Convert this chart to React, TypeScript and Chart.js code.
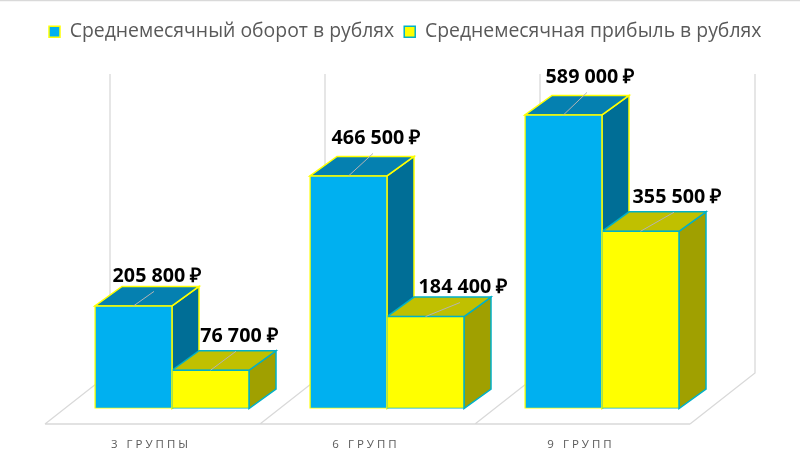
import React, { useEffect, useRef } from "react";
import { Chart, registerables } from "chart.js";

Chart.register(...registerables);

const categories = ["3 ГРУППЫ", "6 ГРУПП", "9 ГРУПП"];
const turnover = [205800, 466500, 589000];
const profit = [76700, 184400, 355500];
const turnoverName = "Среднемесячный оборот в рублях";
const profitName = "Среднемесячная прибыль в рублях";

const DEPTH_X = 27;
const DEPTH_Y = -19.5;
const labelNudge = [
  [[23.5, -29.5], [27.5, -37.5], [26.5, -37.5]],
  [[28.5, -34], [37.5, -29], [36.5, -34]],
];
const faces = [
  { top: "#0580B0", side: "#006E96" },
  { top: "#C0C000", side: "#A0A000" },
];
const GRID = "#D9D9D9";
const fmt = (v: number) => String(v).replace(/\B(?=(\d{3})+$)/g, " ") + " ₽";

const poly = (ctx: any, pts: number[][], fill: string, stroke: string, lw: number) => {
  ctx.beginPath();
  pts.forEach((p, i) => (i ? ctx.lineTo(p[0], p[1]) : ctx.moveTo(p[0], p[1])));
  ctx.closePath();
  ctx.fillStyle = fill;
  ctx.fill();
  ctx.strokeStyle = stroke;
  ctx.lineWidth = lw;
  ctx.lineJoin = "miter";
  ctx.stroke();
};

const scene: any = {
  id: "scene",
  afterLayout(chart: any) {
    const lg = chart.legend;
    const p = lg.options.labels.padding;
    lg.left = 49 - p;
    lg.right = 800;
    lg.top = 22 - p;
  },
  beforeDatasetsDraw(chart: any) {
    const { ctx, scales } = chart;
    const x = scales.x;
    const y = scales.y;
    const step = x.getPixelForValue(1) - x.getPixelForValue(0);
    const base = y.getPixelForValue(0);
    const wallTop = y.getPixelForValue(600000) - 35.5;
    const backY = base - 35.5;
    const frontY = base + 15.5;
    ctx.save();
    ctx.strokeStyle = GRID;
    ctx.lineWidth = 1.3;
    ctx.beginPath();
    ctx.moveTo(0, 0.5);
    ctx.lineTo(800, 0.5);
    ctx.stroke();
    ctx.beginPath();
    for (let i = 0; i <= categories.length; i++) {
      const edge = x.getPixelForValue(0) - step / 2 + i * step;
      ctx.moveTo(edge + 45.5, wallTop);
      ctx.lineTo(edge + 45.5, backY);
      ctx.lineTo(edge - 19.5, frontY);
    }
    const e0 = x.getPixelForValue(0) - step / 2;
    ctx.moveTo(e0 - 19.5, frontY);
    ctx.lineTo(e0 - 19.5 + step * categories.length, frontY);
    ctx.stroke();
    [0, 1].forEach((d) => {
      const stroke = chart.data.datasets[d].borderColor;
      chart.getDatasetMeta(d).data.forEach((el: any) => {
        const { x: cx, y: ty, base: by, width: w } = el.getProps(["x", "y", "base", "width"], true);
        const l = cx - w / 2;
        const r = cx + w / 2;
        poly(ctx, [[r, ty], [r + DEPTH_X, ty + DEPTH_Y], [r + DEPTH_X, by + DEPTH_Y], [r, by]], faces[d].side, stroke, 1.5);
        poly(ctx, [[l, ty], [l + DEPTH_X, ty + DEPTH_Y], [r + DEPTH_X, ty + DEPTH_Y], [r, ty]], faces[d].top, stroke, 1.5);
      });
    });
    ctx.restore();
  },
  afterDatasetsDraw(chart: any) {
    const { ctx } = chart;
    ctx.save();
    [0, 1].forEach((d) => {
      chart.getDatasetMeta(d).data.forEach((el: any, i: number) => {
        const { x: cx, y: ty } = el.getProps(["x", "y"], true);
        const [dx, dy] = labelNudge[d][i];
        ctx.strokeStyle = "#B4B4B4";
        ctx.lineWidth = 1;
        ctx.beginPath();
        ctx.moveTo(cx, ty);
        ctx.lineTo(cx + dx - 3, ty + dy + 15);
        ctx.stroke();
        ctx.fillStyle = "#000000";
        ctx.font = 'bold 19.7px "Open Sans"';
        ctx.textAlign = "center";
        ctx.textBaseline = "middle";
        ctx.fillText(fmt(chart.data.datasets[d].data[i]), cx + dx, ty + dy);
      });
    });
    ctx.restore();
    (ctx as any).letterSpacing = "3px";
  },
  afterDraw(chart: any) {
    (chart.ctx as any).letterSpacing = "0px";
  },
};

export default function App() {
  const ref = useRef<HTMLCanvasElement>(null);
  useEffect(() => {
    const chart = new Chart(ref.current as HTMLCanvasElement, {
      type: "bar",
      plugins: [scene],
      data: {
        labels: categories,
        datasets: [
          { label: turnoverName, data: turnover, backgroundColor: "#00B0F0", borderColor: "#FFFF00", borderWidth: 1.5, borderSkipped: false, inflateAmount: 0.75, yAxisID: "y" },
          { label: profitName, data: profit, backgroundColor: "#FFFF00", borderColor: "#00B0C8", borderWidth: 1.5, borderSkipped: false, inflateAmount: 0.75, yAxisID: "y" },
        ],
      },
      options: {
        animation: false,
        responsive: false,
        layout: { padding: { top: 70 } },
        datasets: { bar: { categoryPercentage: 154 / 215, barPercentage: 1 } },
        plugins: {
          tooltip: { enabled: false },
          legend: {
            display: true,
            position: "top",
            align: "start",
            labels: {
              boxWidth: 11,
              boxHeight: 11,
              padding: 10,
              color: "#595959",
              font: { family: '"Open Sans"', size: 19.4 },
            },
          },
        },
        scales: {
          x: {
            grid: { display: false },
            border: { display: false },
            ticks: {
              color: "#595959",
              font: { family: '"Open Sans"', size: 11.5 },
              padding: 21,
              labelOffset: -21,
              z: 1,
              maxRotation: 0,
            },
            afterFit: (s: any) => {
              s.height = 59.5;
            },
          },
          y: {
            min: 0,
            max: 600000,
            ticks: { display: false },
            grid: { display: false },
            border: { display: false },
            afterFit: (s: any) => {
              s.width = 64.5;
            },
          },
          yRight: {
            position: "right",
            ticks: { display: false },
            grid: { display: false },
            border: { display: false },
            afterFit: (s: any) => {
              s.width = 90.5;
            },
          },
        },
      },
    } as any);
    return () => chart.destroy();
  }, []);
  return (
    <canvas
      ref={ref}
      width={800}
      height={468}
      style={{ position: "fixed", left: 0, top: 0, width: 800, height: 468, background: "#fff" }}
    />
  );
}
